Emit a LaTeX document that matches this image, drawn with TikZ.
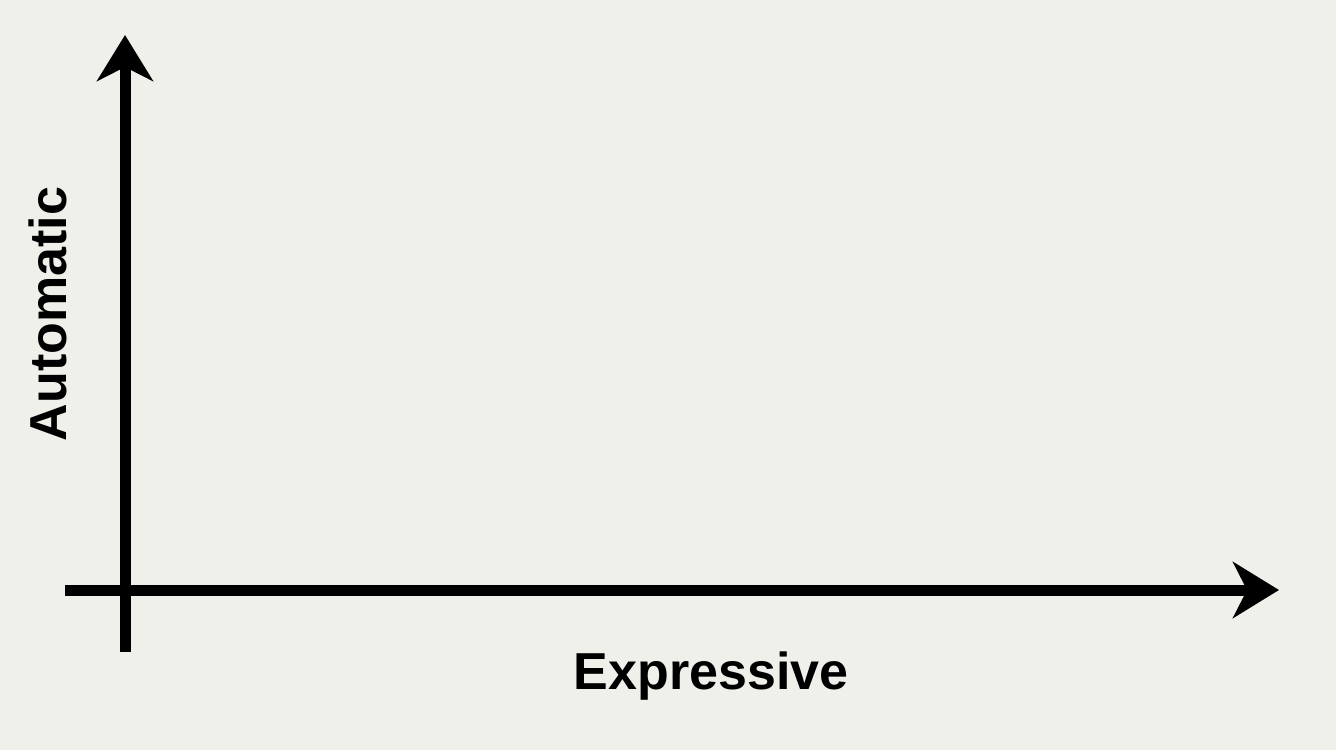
\documentclass[tikz,border=0pt]{standalone}
\usepackage{fontspec}
\setmainfont{Liberation Sans}
\usetikzlibrary{arrows.meta}
\definecolor{bg}{HTML}{F0F0EB}
\tikzset{
  axis/.style={line width=11pt, black, line cap=butt,
    -{Stealth[length=46pt,width=56pt,inset=14pt]}},
  axislabel/.style={font=\fontsize{52}{60}\selectfont\bfseries, text=black, inner sep=0pt}
}
\begin{document}
\begin{tikzpicture}[x=1pt,y=-1pt]
\fill[bg] (0,0) rectangle (1336,750);
\useasboundingbox (0,0) rectangle (1336,750);
\coordinate (ybot) at (125,652);
\coordinate (ytop) at (125,35);
\coordinate (xleft) at (65,590);
\coordinate (xright) at (1279,590);
\draw[axis] (ybot) -- (ytop);
\draw[axis] (xleft) -- (xright);
\node[axislabel] (xlab) at (711,676) {Expressive};
\node[axislabel, rotate=90] (ylab) at (48,314) {Automatic};
\end{tikzpicture}
\end{document}
